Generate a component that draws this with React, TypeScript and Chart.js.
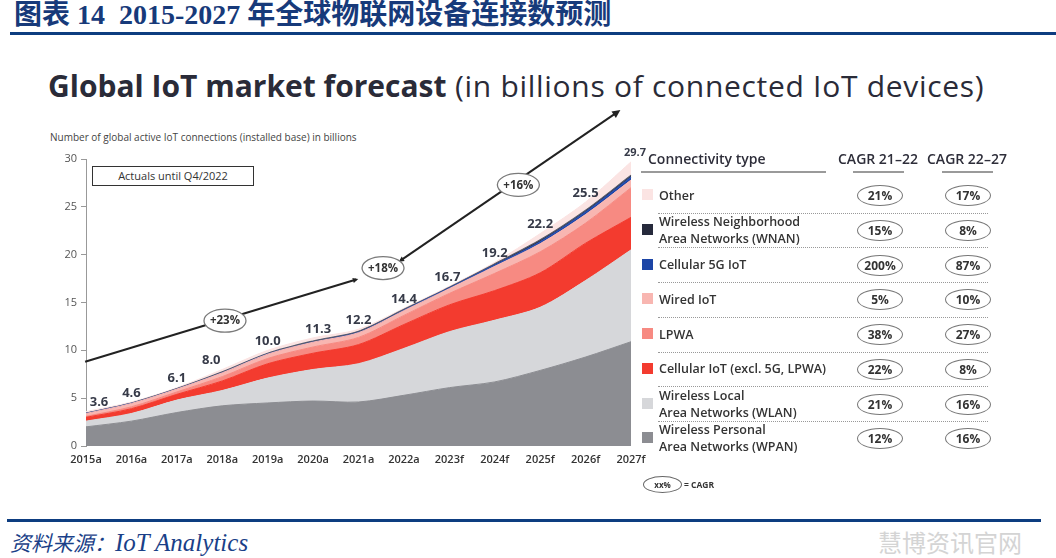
import React, { useEffect, useRef } from "react";
import { Chart, registerables } from "chart.js";
Chart.register(...registerables);

// ---------- data ----------
const years = ["2015a", "2016a", "2017a", "2018a", "2019a", "2020a", "2021a", "2022a", "2023f", "2024f", "2025f", "2026f", "2027f"];
const totals = [3.6, 4.6, 6.1, 8.0, 10.0, 11.3, 12.2, 14.4, 16.7, 19.2, 22.2, 25.5, 29.7];
const wpan = [2.0, 2.6, 3.5, 4.2, 4.5, 4.7, 4.6, 5.3, 6.1, 6.7, 7.9, 9.3, 10.9];
const wlan = [0.6, 0.8, 1.3, 1.6, 2.6, 3.3, 4.0, 4.9, 5.85, 6.45, 6.6, 8.0, 9.6];
const cellularIoT = [0.4, 0.5, 0.6, 1.0, 1.5, 1.7, 2.0, 2.5, 2.8, 3.1, 3.6, 3.9, 3.4];
const lpwa = [0.1, 0.2, 0.25, 0.45, 0.55, 0.65, 0.75, 0.95, 1.2, 1.8, 2.2, 2.1, 3.1];
const wiredIoT = [0.3, 0.35, 0.3, 0.4, 0.45, 0.5, 0.5, 0.5, 0.5, 0.73, 0.85, 0.9, 0.8];
const cellular5G = [0, 0, 0, 0, 0, 0.01, 0.02, 0.04, 0.07, 0.12, 0.2, 0.25, 0.3];
const wnan = [0.05, 0.05, 0.05, 0.1, 0.1, 0.12, 0.13, 0.1, 0.08, 0.15, 0.2, 0.2, 0.2];
const other = [0.15, 0.1, 0.1, 0.25, 0.3, 0.32, 0.2, 0.11, 0.1, 0.15, 0.65, 0.85, 1.4];

const yTicks = [0, 5, 10, 15, 20, 25, 30];

// CAGR arrow (in data units: x = category index, y = billions)
const cagrArrowA = [{ x: -0.02, y: 8.8 }, { x: 5.95, y: 17.4 }];
const cagrArrowB = [{ x: 6.93, y: 19.4 }, { x: 11.7, y: 34.9 }];
const cagrBadges = [
  { x: 3.06, y: 13.1, label: "+23%" },
  { x: 6.54, y: 18.6, label: "+18%" },
  { x: 9.52, y: 27.3, label: "+16%" },
];

// legend table
const legendLabels = [
  ["Other"],
  ["Wireless Neighborhood", "Area Networks (WNAN)"],
  ["Cellular 5G IoT"],
  ["Wired IoT"],
  ["LPWA"],
  ["Cellular IoT (excl. 5G, LPWA)"],
  ["Wireless Local", "Area Networks (WLAN)"],
  ["Wireless Personal", "Area Networks (WPAN)"],
];
const cagr2122 = ["21%", "15%", "200%", "5%", "38%", "22%", "21%", "12%"];
const cagr2227 = ["17%", "8%", "87%", "10%", "27%", "8%", "16%", "16%"];

// ---------- styles ----------
const C = {
  other: "#fbe4e3",
  wnan: "#262a3c",
  g5: "#1c45a6",
  wired: "#f8b6b1",
  lpwa: "#f78a82",
  cell: "#f33b2f",
  wlan: "#d6d7da",
  wpan: "#8c8d92",
};
const legendColors = [C.other, C.wnan, C.g5, C.wired, C.lpwa, C.cell, C.wlan, C.wpan];
const labelDx = [13, 0, 0, -11, 0, 5, 0, 0, -2, 0, 0, 0, 4];

const FONT = '"Open Sans", "DejaVu Sans", sans-serif';

export default function App() {
  const ref = useRef<HTMLCanvasElement>(null);

  useEffect(() => {
    const canvas = ref.current!;
    const overlay = {
      id: "overlay",
      afterDatasetsDraw(chart: any) {
        const ctx = chart.ctx as CanvasRenderingContext2D;
        const xs = chart.scales.x;
        const ys = chart.scales.y;
        const px = (v: number) => xs.getPixelForValue(v);
        const py = (v: number) => ys.getPixelForValue(v);

        // value labels
        ctx.save();
        ctx.fillStyle = "#363a48";
        ctx.textAlign = "center";
        ctx.textBaseline = "middle";
        totals.forEach((t, i) => {
          const last = i === totals.length - 1;
          ctx.font = `700 ${last ? 11 : 13}px ${FONT}`;
          ctx.fillText(t.toFixed(1), px(i) + labelDx[i], py(t) - 9);
        });
        ctx.restore();

        // arrows
        const arrowHead = (x1: number, y1: number, x2: number, y2: number, size: number) => {
          const a = Math.atan2(y2 - y1, x2 - x1);
          ctx.beginPath();
          ctx.moveTo(x2, y2);
          ctx.lineTo(x2 - size * Math.cos(a - 0.45), y2 - size * Math.sin(a - 0.45));
          ctx.lineTo(x2 - size * Math.cos(a + 0.45), y2 - size * Math.sin(a + 0.45));
          ctx.closePath();
          ctx.fill();
        };
        ctx.save();
        ctx.strokeStyle = "#222";
        ctx.fillStyle = "#222";
        ctx.lineWidth = 2;
        const a0 = { x: px(cagrArrowA[0].x), y: py(cagrArrowA[0].y) };
        const a1 = { x: px(cagrArrowA[1].x), y: py(cagrArrowA[1].y) };
        const b0 = { x: px(cagrArrowB[0].x), y: py(cagrArrowB[0].y) };
        const b1 = { x: px(cagrArrowB[1].x), y: py(cagrArrowB[1].y) };
        ctx.beginPath();
        ctx.moveTo(a0.x, a0.y);
        ctx.lineTo(a1.x, a1.y);
        ctx.stroke();
        ctx.beginPath();
        ctx.moveTo(b0.x, b0.y);
        ctx.lineTo(b1.x, b1.y);
        ctx.stroke();
        arrowHead(a0.x, a0.y, a1.x + 2, a1.y - 0.6, 6);
        arrowHead(b1.x, b1.y, b0.x - 2, b0.y + 1.4, 6);
        arrowHead(b0.x, b0.y, b1.x + 3, b1.y - 2, 9);
        ctx.restore();

        // badges
        ctx.save();
        cagrBadges.forEach((b) => {
          const cx = px(b.x);
          const cy = py(b.y);
          ctx.beginPath();
          ctx.ellipse(cx, cy, 21, 11.5, 0, 0, Math.PI * 2);
          ctx.fillStyle = "#fff";
          ctx.fill();
          ctx.lineWidth = 1.3;
          ctx.strokeStyle = "#7a7a7a";
          ctx.stroke();
          ctx.fillStyle = "#333";
          ctx.font = `700 11.5px ${FONT}`;
          ctx.textAlign = "center";
          ctx.textBaseline = "middle";
          ctx.fillText(b.label, cx, cy + 0.5);
        });
        ctx.restore();
      },
    };

    const mk = (label: string, data: number[], color: string, fill: any, border?: string, bw = 1) => ({
      label,
      data,
      backgroundColor: color,
      borderColor: border ?? color,
      borderWidth: bw,
      fill,
      pointRadius: 0,
      tension: 0.3,
    });

    const chart = new Chart(canvas, {
      type: "line",
      data: {
        labels: years,
        datasets: [
          mk("Wireless Personal Area Networks (WPAN)", wpan, C.wpan, "origin"),
          mk("Wireless Local Area Networks (WLAN)", wlan, C.wlan, "-1"),
          mk("Cellular IoT (excl. 5G, LPWA)", cellularIoT, C.cell, "-1"),
          mk("LPWA", lpwa, C.lpwa, "-1"),
          mk("Wired IoT", wiredIoT, C.wired, "-1"),
          mk("Cellular 5G IoT", cellular5G, C.g5, "-1", "#2a50b0", 1.3),
          mk("WNAN", wnan, C.wnan, "-1", "#555a6a", 1.1),
          mk("Other", other, C.other, "-1"),
        ] as any,
      },
      options: {
        responsive: false,
        animation: false,
        layout: { padding: { top: 59, right: 29, left: 0, bottom: 0 } },
        plugins: { legend: { display: false }, tooltip: { enabled: false } },
        scales: {
          x: {
            offset: false,
            grid: { display: false, drawTicks: false },
            border: { display: false },
            ticks: {
              color: "#333",
              font: { family: FONT, size: 11, weight: "600" as any },
              padding: 7,
              maxRotation: 0,
              autoSkip: false,
            },
            afterFit: (s: any) => {
              s.height = 34;
            },
          },
          y: {
            stacked: true,
            min: 0,
            max: 30,
            afterBuildTicks: (s: any) => {
              s.ticks = yTicks.map((v) => ({ value: v }));
            },
            ticks: { color: "#555", font: { family: FONT, size: 11 }, padding: 4 },
            grid: { display: true, drawOnChartArea: false, drawTicks: true, tickLength: 5, color: "#999" },
            border: { display: true, color: "#999", width: 1 },
            afterFit: (s: any) => {
              s.width = 86;
            },
          },
        },
      },
      plugins: [overlay],
    });
    return () => chart.destroy();
  }, []);

  const rowTop = 178;
  const rowH = 34.7;

  return (
    <div
      style={{
        position: "absolute",
        left: 0,
        top: 0,
        width: 1056,
        height: 558,
        background: "#fff",
        overflow: "hidden",
        fontFamily: FONT,
      }}
    >
      {/* header */}
      <div
        style={{
          position: "absolute",
          left: 14,
          top: 0,
          fontFamily: '"Liberation Serif", "Noto Sans CJK SC", serif',
          fontWeight: 700,
          fontSize: 28,
          lineHeight: "30px",
          color: "#173a7a",
          whiteSpace: "pre",
        }}
      >
        图表 14{"  "}2015-2027 年全球物联网设备连接数预测
      </div>
      <div style={{ position: "absolute", left: 10, top: 32, width: 1046, height: 3, background: "#0d3d80" }} />

      {/* title */}
      <div
        style={{
          position: "absolute",
          left: 48,
          top: 65,
          fontSize: 30,
          color: "#2a2b38",
          whiteSpace: "pre",
          lineHeight: "41px",
        }}
      >
        <span style={{ fontWeight: 700 }}>Global IoT market forecast</span>
        <span style={{ fontWeight: 400, letterSpacing: "0.7px" }}> (in billions of connected IoT devices)</span>
      </div>
      <div style={{ position: "absolute", left: 50, top: 130, fontSize: 10, lineHeight: "14px", color: "#444", whiteSpace: "pre" }}>
        Number of global active IoT connections (installed base) in billions
      </div>

      {/* chart */}
      <canvas ref={ref} width={660} height={380} style={{ position: "absolute", left: 0, top: 100, width: 660, height: 380 }} />

      {/* actuals box */}
      <div
        style={{
          position: "absolute",
          left: 92,
          top: 166,
          width: 160,
          height: 18,
          border: "1.5px solid #333",
          fontSize: 11,
          lineHeight: "18px",
          textAlign: "center",
          color: "#333",
          background: "#fff",
        }}
      >
        Actuals until Q4/2022
      </div>

      {/* legend table */}
      <div style={{ position: "absolute", left: 648, top: 149, fontSize: 14, fontWeight: 600, color: "#2e2e3a", whiteSpace: "pre", lineHeight: "20px" }}>
        Connectivity type
      </div>
      <div style={{ position: "absolute", left: 838, top: 149, fontSize: 14, fontWeight: 600, color: "#2e2e3a", whiteSpace: "pre", lineHeight: "20px" }}>
        CAGR 21–22
      </div>
      <div style={{ position: "absolute", left: 927, top: 149, fontSize: 14, fontWeight: 600, color: "#2e2e3a", whiteSpace: "pre", lineHeight: "20px" }}>
        CAGR 22–27
      </div>
      <div style={{ position: "absolute", left: 641, top: 171, width: 185, height: 2, background: "#9a9a9a" }} />
      <div style={{ position: "absolute", left: 853, top: 171, width: 51, height: 2, background: "#9a9a9a" }} />
      <div style={{ position: "absolute", left: 942, top: 171, width: 51, height: 2, background: "#9a9a9a" }} />

      {legendLabels.map((lines, i) => {
        const top = rowTop + i * rowH;
        const cy = top + rowH / 2;
        return (
          <React.Fragment key={i}>
            {i > 0 && (
              <div
                style={{
                  position: "absolute",
                  left: 658,
                  top: Math.round(top),
                  width: 330,
                  height: 0,
                  borderTop: "1.5px dotted #999",
                }}
              />
            )}
            <div
              style={{
                position: "absolute",
                left: 642,
                top: Math.round(cy - 6),
                width: 11,
                height: 11,
                background: legendColors[i],
              }}
            />
            <div
              style={{
                position: "absolute",
                left: 659,
                top: Math.round(cy - (lines.length * 17) / 2),
                fontSize: 12.5,
                fontWeight: 600,
                lineHeight: "17px",
                color: "#333",
                whiteSpace: "pre",
              }}
            >
              {lines.map((l, j) => (
                <div key={j}>{l}</div>
              ))}
            </div>
            {[cagr2122[i], cagr2227[i]].map((v, k) => (
              <div
                key={k}
                style={{
                  position: "absolute",
                  left: k === 0 ? 857 : 945,
                  top: Math.round(cy - 10),
                  width: 44,
                  height: 19,
                  borderRadius: "50%",
                  border: "1.3px solid #777",
                  fontSize: 12,
                  fontWeight: 700,
                  lineHeight: "19px",
                  textAlign: "center",
                  color: "#333",
                }}
              >
                {v}
              </div>
            ))}
          </React.Fragment>
        );
      })}

      {/* xx% = CAGR */}
      <div
        style={{
          position: "absolute",
          left: 643,
          top: 476,
          width: 37,
          height: 15,
          borderRadius: "50%",
          border: "1.2px solid #666",
          fontSize: 8,
          fontWeight: 700,
          lineHeight: "15px",
          textAlign: "center",
          color: "#333",
        }}
      >
        xx%
      </div>
      <div style={{ position: "absolute", left: 684, top: 477, fontSize: 8.5, fontWeight: 700, lineHeight: "15px", color: "#333", whiteSpace: "pre" }}>
        = CAGR
      </div>

      {/* footer */}
      <div style={{ position: "absolute", left: 7, top: 519, width: 1034, height: 3, background: "#0d3d80" }} />
      <div
        style={{
          position: "absolute",
          left: 10,
          top: 529,
          fontFamily: '"Liberation Serif", "Noto Sans CJK SC", serif',
          fontStyle: "italic",
          fontSize: 21,
          lineHeight: "28px",
          color: "#1a3f88",
          whiteSpace: "pre",
        }}
      >
        资料来源：<span style={{ fontSize: 25 }}>IoT Analytics</span>
      </div>
      <div
        style={{
          position: "absolute",
          left: 878,
          top: 527,
          fontFamily: '"Noto Sans CJK SC", sans-serif',
          fontSize: 24,
          lineHeight: "30px",
          color: "#d4d4d4",
          whiteSpace: "pre",
        }}
      >
        慧博资讯官网
      </div>
    </div>
  );
}
